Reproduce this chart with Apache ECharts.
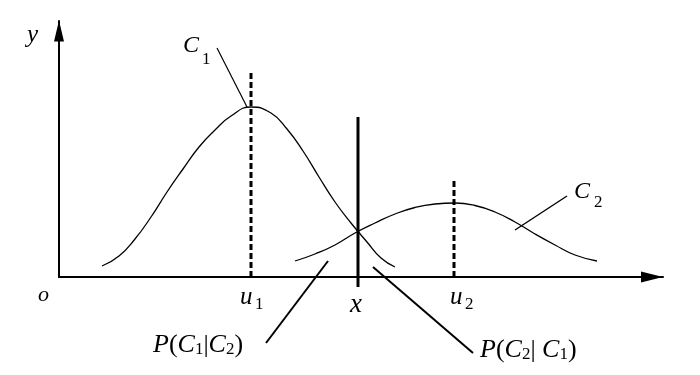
<!DOCTYPE html>
<html><head><meta charset="utf-8">
<script src="https://cdn.jsdelivr.net/npm/echarts@6/dist/echarts.min.js"></script>
<style>html,body{margin:0;padding:0;background:#fff}#c{width:700px;height:375px}</style>
</head><body><div id="c"></div>
<script>
// Curve C1
const c1X = [43, 60, 76, 92, 108, 124, 140, 156, 172, 192, 212, 228, 244, 260, 276, 292, 308, 322, 336];
const c1Y = [11, 21, 38, 60, 85, 108, 130, 147, 161, 170, 164, 148, 126, 100, 75, 54, 35, 19, 10];
// Curve C2
const c2X = [236, 256, 276, 296, 316, 336, 356, 376, 396, 416, 436, 456, 476, 496, 516, 538];
const c2Y = [16, 23, 32, 44, 54, 63, 69.5, 73, 74, 71.5, 65, 55, 43, 32, 22, 16];
// Mean markers u1, u2 (dashed) and decision boundary x (solid)
const meanX = [192, 395];
const meanTop = [204, 96];
const boundaryX = 299;
const boundaryY = [-10, 160];
// Leader lines (start, end) in data units
const leaderFrom = [[158, 229], [508, 81], [207, -66], [314, 10]];
const leaderTo = [[188, 170], [456, 47], [269, 16], [414, -76]];
const leaderWidth = [1.2, 1.4, 2, 2];
// Annotations: rich text, baseline-left anchor in data units, size
const annoText = ['{i|y}', '{i|o}', '{i|u}', '{s|1}', '{i|x}', '{i|u}', '{s|2}', '{i|C}', '{s|1}', '{i|C}', '{s|2}',
  '{i|P}{r|(}{i|C}{b|1}{r||}{i|C}{b|2}{r|)}', '{i|P}{r|(}{i|C}{b|2}{r|| }{i|C}{b|1}{r|)}'];
const annoX = [-32, -21, 181, 196, 291, 391, 406, 124, 143, 515, 535, 94, 421];
const annoY = [234, -25, -28, -33, -36, -28, -33, 224, 212, 78, 69, -76, -81];
const annoSize = [25, 22, 25, 17, 27, 25, 17, 24, 17, 24, 17, 26, 26];

const chart = echarts.init(document.getElementById('c'), null, {renderer: 'canvas'});
const FONT = '"Liberation Serif", "Times New Roman", serif';
function zip(a, b) { return a.map((v, i) => [v, b[i]]); }
const series = [
  {type: 'line', data: zip(c1X, c1Y), smooth: 0.5, showSymbol: false, lineStyle: {color: '#000', width: 1.3}, clip: false},
  {type: 'line', data: zip(c2X, c2Y), smooth: 0.5, showSymbol: false, lineStyle: {color: '#000', width: 1.3}, clip: false}
];
meanX.forEach((mx, i) => series.push({type: 'line', data: [[mx, 0], [mx, meanTop[i]]], showSymbol: false, clip: false,
  lineStyle: {color: '#000', width: 3, type: [6, 3]}}));
series.push({type: 'line', data: [[boundaryX, boundaryY[0]], [boundaryX, boundaryY[1]]], showSymbol: false, clip: false,
  lineStyle: {color: '#000', width: 3}});
leaderFrom.forEach((f, i) => series.push({type: 'line', data: [f, leaderTo[i]], showSymbol: false, clip: false,
  lineStyle: {color: '#000', width: leaderWidth[i]}}));

const axisCommon = {type: 'value', min: 0, axisTick: {show: false}, axisLabel: {show: false}, splitLine: {show: false}};
chart.setOption({
  animation: false,
  backgroundColor: '#fff',
  grid: {left: 59, right: 37, top: 21, bottom: 98, containLabel: false},
  xAxis: Object.assign({}, axisCommon, {max: 604, axisLine: {show: true, onZero: false, symbol: ['none', 'triangle'], symbolSize: [11, 22], symbolOffset: [0, -11], lineStyle: {color: '#000', width: 2}}}),
  yAxis: Object.assign({}, axisCommon, {max: 256, axisLine: {show: true, onZero: false, symbol: ['none', 'triangle'], symbolSize: [10, 21], symbolOffset: [0, -10], lineStyle: {color: '#000', width: 2}}}),
  series: series
});

const graphics = annoText.map((t, i) => {
  const p = chart.convertToPixel({gridIndex: 0}, [annoX[i], annoY[i]]);
  const s = annoSize[i];
  const sub = Math.round(s * 0.66);
  return {
    type: 'text', x: p[0], y: p[1] - s * 0.3, silent: true,
    style: {
      text: t, align: 'left', textAlign: 'left', verticalAlign: 'middle', textVerticalAlign: 'middle', fill: '#000',
      rich: {
        i: {fontFamily: FONT, fontStyle: 'italic', fontSize: s, lineHeight: s, verticalAlign: 'bottom', fill: '#000'},
        r: {fontFamily: FONT, fontSize: s, lineHeight: s, verticalAlign: 'bottom', fill: '#000'},
        s: {fontFamily: FONT, fontSize: s, lineHeight: s, verticalAlign: 'bottom', fill: '#000'},
        b: {fontFamily: FONT, fontSize: sub, lineHeight: Math.round(sub * 0.75), verticalAlign: 'bottom', fill: '#000'}
      }
    }
  };
});
chart.setOption({graphic: graphics});
</script></body></html>
